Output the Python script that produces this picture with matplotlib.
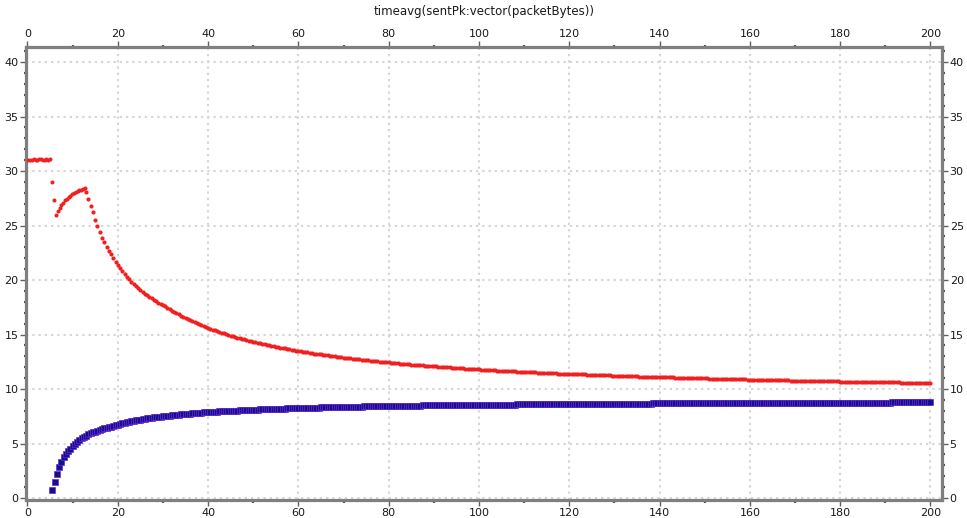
import numpy as np
import matplotlib
matplotlib.use("Agg")
import matplotlib.pyplot as plt
from matplotlib.ticker import MultipleLocator

title = "timeavg(sentPk:vector(packetBytes))"

# ---- red series: early part (explicit times) ----
red_early_t = [0.2, 0.6, 1.0, 1.4, 1.8, 2.2, 2.6, 3.0, 3.4, 3.8, 4.2, 4.6, 5.0,
               5.4, 5.8,
               6.3, 6.7, 7.1, 7.5, 7.9, 8.3, 8.7, 9.1, 9.5, 9.9, 10.3, 10.7, 11.1,
               11.5, 11.9, 12.3, 12.7]
red_early_v = [31.0, 31.05, 31.0, 31.1, 31.05, 31.0, 31.1, 31.1, 31.05, 31.0, 31.1, 31.05, 31.1,
               28.95, 27.35,
               25.95, 26.3, 26.6, 26.85, 27.1, 27.3, 27.45, 27.6, 27.75, 27.87, 27.98, 28.07, 28.15,
               28.22, 28.29, 28.35, 28.42]

# ---- red series: decay, sampled every 0.5 s from t = 13.0 ----
red_decay_start = 13.0
red_decay_step = 0.5
red_decay_v = [
    28.1, 27.45, 26.8, 26.2, 25.55, 24.95, 24.4, 23.9, 23.45, 23.05,
    22.7, 22.35, 22.0, 21.7, 21.4, 21.1, 20.83, 20.57, 20.32, 20.08,
    19.86, 19.65, 19.45, 19.26, 19.08, 18.91, 18.75, 18.6, 18.45, 18.31,
    18.17, 18.04, 17.91, 17.79, 17.67,
    17.59, 17.45, 17.32, 17.20, 17.08, 16.96, 16.84, 16.73, 16.62, 16.52,
    16.41, 16.32, 16.22, 16.12, 16.03, 15.94, 15.86, 15.77, 15.69,
    15.61, 15.53, 15.46, 15.38, 15.31, 15.24, 15.17, 15.10, 15.03, 14.97,
    14.90, 14.84, 14.78, 14.72, 14.66, 14.61, 14.55, 14.50, 14.44, 14.39,
    14.34, 14.29, 14.24, 14.19, 14.14, 14.10, 14.05, 14.01, 13.96, 13.92,
    13.88, 13.84, 13.80, 13.76, 13.72, 13.68, 13.64, 13.60, 13.57, 13.53,
    13.49, 13.46, 13.42, 13.39, 13.36, 13.32, 13.29, 13.26, 13.23, 13.20,
    13.17, 13.14, 13.11, 13.08, 13.05, 13.02, 13.00, 12.97, 12.94, 12.92,
    12.89, 12.86, 12.84, 12.81, 12.79, 12.76, 12.74, 12.72, 12.69, 12.67,
    12.65, 12.62, 12.60, 12.58, 12.56, 12.54, 12.52, 12.50, 12.48, 12.46,
    12.44, 12.42, 12.40, 12.38, 12.36, 12.34, 12.32, 12.30, 12.28, 12.27,
    12.25, 12.23, 12.21, 12.20, 12.18, 12.16, 12.15, 12.13, 12.11, 12.10,
    12.08, 12.07, 12.05, 12.04, 12.02, 12.01, 11.99, 11.98, 11.96, 11.95,
    11.93, 11.92, 11.91, 11.89, 11.88, 11.87, 11.85, 11.84, 11.83, 11.81,
    11.80, 11.79, 11.78, 11.76, 11.75, 11.74, 11.73, 11.71, 11.70, 11.69,
    11.68, 11.67, 11.66, 11.65, 11.63, 11.62, 11.61, 11.60, 11.59, 11.58,
    11.57, 11.56, 11.55, 11.54, 11.53, 11.52, 11.51, 11.50, 11.49, 11.48,
    11.47, 11.46, 11.45, 11.44, 11.43, 11.42, 11.41, 11.40, 11.39, 11.39,
    11.38, 11.38, 11.38, 11.37, 11.36, 11.35, 11.35, 11.34, 11.33, 11.32,
    11.31, 11.30, 11.30, 11.29, 11.28, 11.27, 11.26, 11.26, 11.25, 11.24,
    11.23, 11.23, 11.22, 11.21, 11.20, 11.20, 11.19, 11.18, 11.18, 11.17,
    11.16, 11.15, 11.15, 11.14, 11.13, 11.13, 11.12, 11.11, 11.11, 11.10,
    11.09, 11.09, 11.08, 11.08, 11.07, 11.06, 11.06, 11.05, 11.04, 11.04,
    11.03, 11.03, 11.02, 11.01, 11.01, 11.00, 11.00, 10.99, 10.99, 10.98,
    10.97, 10.97, 10.96, 10.96, 10.95, 10.95, 10.94, 10.94, 10.93, 10.92,
    10.92, 10.91, 10.91, 10.90, 10.90, 10.89, 10.89, 10.88, 10.88, 10.87,
    10.87, 10.86, 10.86, 10.85, 10.85, 10.84, 10.84, 10.83, 10.83, 10.82,
    10.82, 10.81, 10.81, 10.81, 10.80, 10.80, 10.79, 10.79, 10.78, 10.78,
    10.77, 10.77, 10.77, 10.76, 10.76, 10.75, 10.75, 10.74, 10.74, 10.74,
    10.73, 10.73, 10.72, 10.72, 10.72, 10.71, 10.71, 10.70, 10.70, 10.70,
    10.69, 10.69, 10.68, 10.68, 10.68, 10.67, 10.67, 10.66, 10.66, 10.66,
    10.65, 10.65, 10.65, 10.64, 10.64, 10.64, 10.63, 10.63, 10.62, 10.62,
    10.62, 10.61, 10.61, 10.61, 10.60, 10.60, 10.60, 10.59, 10.59, 10.59,
    10.58, 10.58, 10.58, 10.57, 10.57, 10.57, 10.56, 10.56, 10.56, 10.55, 10.55,
]

# ---- blue series, sampled every 0.5 s from t = 5.5 ----
blue_start = 5.5
blue_step = 0.5
blue_v = [
    0.78, 1.45, 2.2, 2.86, 3.35, 3.72, 4.02, 4.28, 4.52, 4.75,
    4.96, 5.15, 5.32, 5.47, 5.6, 5.72, 5.83, 5.93, 6.02, 6.1,
    6.18, 6.25, 6.32, 6.38, 6.44, 6.5, 6.56, 6.61, 6.66, 6.71,
    6.80, 6.86, 6.91, 6.95, 7.00, 7.04, 7.09, 7.13, 7.16, 7.20,
    7.24, 7.27, 7.30, 7.33, 7.36, 7.39, 7.42, 7.45, 7.47,
    7.50, 7.52, 7.55, 7.57, 7.59, 7.62, 7.64, 7.66, 7.68, 7.70,
    7.71, 7.73, 7.75, 7.77, 7.78, 7.80, 7.82, 7.83, 7.85, 7.86,
    7.88, 7.89, 7.90, 7.92, 7.93, 7.94, 7.95, 7.97, 7.98, 7.99,
    8.00, 8.01, 8.02, 8.03, 8.04, 8.05, 8.06, 8.07, 8.08, 8.09,
    8.10, 8.11, 8.12, 8.13, 8.13, 8.14, 8.15, 8.16, 8.17, 8.17,
    8.18, 8.19, 8.20, 8.20, 8.21, 8.22, 8.22, 8.23, 8.24, 8.24,
    8.25, 8.26, 8.26, 8.27, 8.27, 8.28, 8.29, 8.29, 8.30, 8.30,
    8.31, 8.31, 8.32, 8.32, 8.33, 8.33, 8.34, 8.34, 8.35, 8.35,
    8.36, 8.36, 8.37, 8.37, 8.38, 8.38, 8.38, 8.39, 8.39, 8.40,
    8.40, 8.40, 8.41, 8.41, 8.42, 8.42, 8.42, 8.43, 8.43, 8.43,
    8.44, 8.44, 8.44, 8.45, 8.45, 8.45, 8.46, 8.46, 8.46, 8.47,
    8.47, 8.47, 8.48, 8.48, 8.48, 8.49, 8.49, 8.49, 8.49, 8.50,
    8.50, 8.50, 8.51, 8.51, 8.51, 8.51, 8.52, 8.52, 8.52, 8.52,
    8.53, 8.53, 8.53, 8.53, 8.54, 8.54, 8.54, 8.54, 8.55, 8.55, 8.55,
    8.55, 8.55,
    8.56, 8.56, 8.56, 8.56,
    8.57, 8.57, 8.57, 8.57, 8.57,
    8.58, 8.58, 8.58, 8.58, 8.58,
    8.59, 8.59, 8.59, 8.59, 8.59, 8.59,
    8.60, 8.60, 8.60, 8.60, 8.60,
    8.61, 8.61, 8.61, 8.61, 8.61, 8.61,
    8.62, 8.62, 8.62, 8.62, 8.62, 8.62, 8.62,
    8.63, 8.63, 8.63, 8.63, 8.63, 8.63,
    8.64, 8.64, 8.64, 8.64, 8.64, 8.64, 8.64,
    8.65, 8.65, 8.65, 8.65, 8.65, 8.65, 8.65,
    8.66, 8.66, 8.66, 8.66, 8.66, 8.66, 8.66, 8.66,
    8.67, 8.67, 8.67, 8.67, 8.67, 8.67, 8.67, 8.67,
    8.68, 8.68, 8.68, 8.68, 8.68, 8.68, 8.68, 8.68, 8.68,
    8.69, 8.69, 8.69, 8.69, 8.69, 8.69, 8.69, 8.69, 8.69, 8.69,
    8.70, 8.70, 8.70, 8.70, 8.70, 8.70, 8.70, 8.70, 8.70, 8.70,
    8.71, 8.71, 8.71, 8.71, 8.71, 8.71, 8.71, 8.71, 8.71, 8.71,
    8.72, 8.72, 8.72, 8.72, 8.72, 8.72, 8.72, 8.72, 8.72, 8.72, 8.72, 8.72,
    8.73, 8.73, 8.73, 8.73, 8.73, 8.73, 8.73, 8.73, 8.73, 8.73, 8.73, 8.73,
    8.74, 8.74, 8.74, 8.74, 8.74, 8.74, 8.74, 8.74, 8.74, 8.74, 8.74, 8.74, 8.74,
    8.75, 8.75, 8.75, 8.75, 8.75, 8.75, 8.75, 8.75, 8.75, 8.75, 8.75, 8.75, 8.75, 8.75, 8.75,
    8.76, 8.76, 8.76, 8.76, 8.76, 8.76, 8.76, 8.76, 8.76, 8.76, 8.76, 8.76, 8.76, 8.76, 8.76,
    8.77, 8.77, 8.77, 8.77, 8.77, 8.77, 8.77, 8.77, 8.77, 8.77, 8.77, 8.77, 8.77, 8.77, 8.77,
    8.77, 8.77, 8.77,
]

x_ticks = [0, 20, 40, 60, 80, 100, 120, 140, 160, 180, 200]
y_ticks = [0, 5, 10, 15, 20, 25, 30, 35, 40]

red_decay_t = red_decay_start + red_decay_step * np.arange(len(red_decay_v))
blue_t = blue_start + blue_step * np.arange(len(blue_v))

W, H = 967, 518
fig = plt.figure(figsize=(W / 100, H / 100), dpi=100)
fig.patch.set_facecolor("white")
left_px, right_px, top_px, bot_px = 26, 942, 47, 500
ax = fig.add_axes([left_px / W, 1 - bot_px / H, (right_px - left_px) / W, (bot_px - top_px) / H])

red = "#f02020"
ax.plot(red_early_t, red_early_v, linestyle="none", marker="o", ms=2.9, mew=0,
        color=red, zorder=3)
ax.plot(red_decay_t, red_decay_v, linestyle="none", marker="o", ms=3.0, mew=0,
        color=red, zorder=3)
ax.plot(blue_t, blue_v, linestyle="none", marker="s", ms=3.8, mfc="#12108a",
        mec="#6a2ad8", mew=0.5, zorder=4)

ax.set_xlim(-0.33, 202.55)
ax.set_ylim(-0.18, 41.38)
ax.set_xticks(x_ticks)
ax.set_yticks(y_ticks)
ax.xaxis.set_minor_locator(MultipleLocator(10))
ax.yaxis.set_minor_locator(MultipleLocator(1))

ax.grid(True, which="major", color="#d6d6d6", linestyle=(0, (1.1, 1.9)), linewidth=1.5, zorder=0)
ax.set_axisbelow(True)

for s in ax.spines.values():
    s.set_color("#7f7f7f")
    s.set_linewidth(2.3)

ax.tick_params(which="major", direction="out", length=4, width=1.0, color="#606060",
               labelsize=8, labelcolor="#1a1a1a", pad=1.5,
               top=True, right=True, labeltop=True, labelright=True)
ax.tick_params(which="minor", direction="out", length=1.8, width=1.6, color="#505050",
               top=True, right=True)

fig.text((left_px + right_px) / 2 / W, 1 - 12 / H, title, ha="center", va="center",
         fontsize=8.5, color="#1a1a1a")

fig.savefig("out.png", dpi=100, facecolor="white")
